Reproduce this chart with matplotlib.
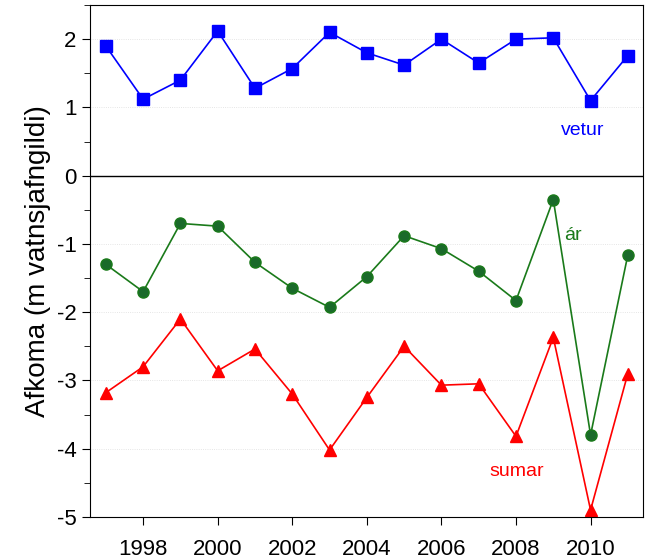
import numpy as np
import matplotlib.pyplot as plt
from matplotlib.ticker import MultipleLocator

plt.rcParams['axes.unicode_minus'] = False

years = list(range(1997, 2012))
vetur = [1.9, 1.12, 1.4, 2.12, 1.28, 1.57, 2.1, 1.8, 1.62, 2.0, 1.65, 2.0, 2.02, 1.1, 1.76]
ar = [-1.3, -1.7, -0.7, -0.74, -1.27, -1.65, -1.93, -1.48, -0.88, -1.07, -1.4, -1.83, -0.35, -3.8, -1.16]
sumar = [-3.18, -2.8, -2.1, -2.86, -2.54, -3.2, -4.02, -3.25, -2.5, -3.07, -3.05, -3.82, -2.37, -4.9, -2.9]

fig = plt.figure(figsize=(6.46, 5.6), dpi=100)
ax = fig.add_axes([0.139, 0.077, 0.856, 0.914])

for y in [-4, -3, -2, -1, 1, 2]:
    ax.axhline(y, color='#dddddd', lw=0.6, ls=':', zorder=0)
ax.axhline(0, color='black', lw=1.0, zorder=1)

ax.plot(years, vetur, color='#0000ff', marker='s', ms=8, lw=1.2)
ax.plot(years, ar, color='#1a7a1a', marker='o', ms=8, lw=1.2, markerfacecolor='#1a6a2a')
ax.plot(years, sumar, color='#ff0000', marker='^', ms=8, lw=1.2)

ax.text(2009.2, 0.6, 'vetur', color='#0000ff', fontsize=14, family='Liberation Sans')
ax.text(2009.3, -0.95, 'ár', color='#1a7a1a', fontsize=14, family='Liberation Sans')
ax.text(2007.3, -4.4, 'sumar', color='#ff0000', fontsize=14, family='Liberation Sans')

ax.set_xlim(1996.57, 2011.4)
ax.set_ylim(-5.0, 2.5)
ax.set_xticks(range(1998, 2012, 2))
ax.yaxis.set_major_locator(MultipleLocator(1))
ax.yaxis.set_minor_locator(MultipleLocator(0.5))
ax.tick_params(which='both', direction='out', labelsize=16)
ax.tick_params(axis='x', pad=10)
ax.tick_params(which='major', length=6)
ax.tick_params(which='minor', length=4)
for lab in ax.get_xticklabels() + ax.get_yticklabels():
    lab.set_family('Liberation Sans')
ax.set_ylabel('Afkoma (m vatnsjafngildi)', fontsize=20, family='Liberation Sans', labelpad=4)

fig.savefig('out.png')
